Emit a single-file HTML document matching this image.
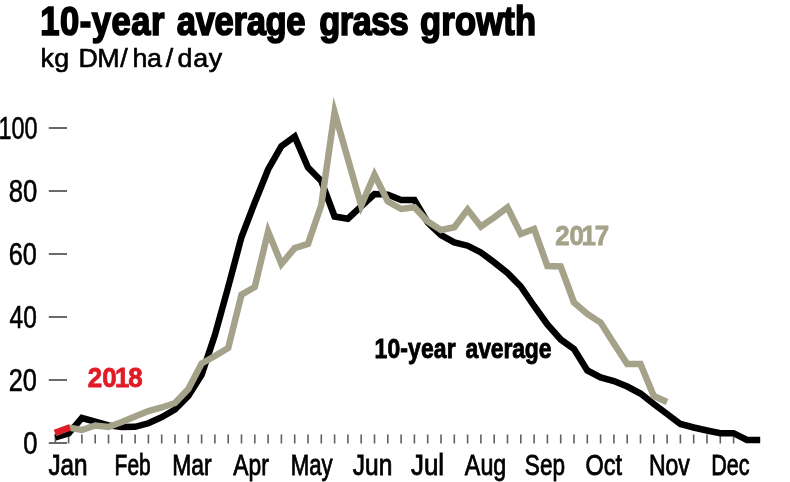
<!DOCTYPE html>
<html><head><meta charset="utf-8"><title>10-year average grass growth</title>
<style>
html,body{margin:0;padding:0;background:#fff;}
body{width:790px;height:482px;overflow:hidden;}
svg{display:block;}
text{font-family:"Liberation Sans",Arial,sans-serif;}
</style></head><body>
<svg width="790" height="482" viewBox="0 0 790 482">
<rect width="790" height="482" fill="#fff"/>
<!-- title -->
<text transform="scale(0.86,1)" x="46.79 69.83 92.73 106.68 129.71 152.77 175.70 191.60 205.63 227.58 249.54 271.57 286.88 308.81 332.95 355.13 371.19 395.01 409.97 431.51 453.05 475.02 488.44 513.15 528.95 553.72 585.15 598.70" y="34.6" font-size="40.2" font-weight="bold" fill="#000" stroke="#000" stroke-width="1.7">10-year average grass growth</text>
<!-- subtitle -->
<text transform="scale(1.06,1)" x="38.25 51.29 65.58 74.06 91.82 113.44 124.91 138.70 156.31 167.47 182.24 196.98" y="67" font-size="25.3" fill="#000" stroke="#000" stroke-width="0.6">kg DM/ha/day</text>
<!-- y axis labels -->
<text x="-1.41" y="139" font-size="30.5" fill="#000" stroke="#000" stroke-width="0.6" textLength="38.97" lengthAdjust="spacingAndGlyphs">100</text>
<text x="8.66" y="202" font-size="30.5" fill="#000" stroke="#000" stroke-width="0.6" textLength="28.58" lengthAdjust="spacingAndGlyphs">80</text>
<text x="8.74" y="265" font-size="30.5" fill="#000" stroke="#000" stroke-width="0.6" textLength="28.04" lengthAdjust="spacingAndGlyphs">60</text>
<text x="9.58" y="328" font-size="30.5" fill="#000" stroke="#000" stroke-width="0.6" textLength="27.22" lengthAdjust="spacingAndGlyphs">40</text>
<text x="8.7" y="391" font-size="30.5" fill="#000" stroke="#000" stroke-width="0.6" textLength="28.18" lengthAdjust="spacingAndGlyphs">20</text>
<text x="23.33" y="454" font-size="30.5" fill="#000" stroke="#000" stroke-width="0.6" textLength="14.21" lengthAdjust="spacingAndGlyphs">0</text>
<g stroke="#6a6a6a" stroke-width="2"><line x1="48.8" y1="128" x2="67" y2="128"/><line x1="48.8" y1="191" x2="67" y2="191"/><line x1="48.8" y1="254" x2="67" y2="254"/><line x1="48.8" y1="317" x2="67" y2="317"/><line x1="48.8" y1="380" x2="67" y2="380"/><line x1="48.8" y1="443" x2="67" y2="443"/></g>
<g stroke="#606060" stroke-width="1.6"><line x1="55.3" y1="434.5" x2="55.3" y2="443.5"/><line x1="68.6" y1="434.5" x2="68.6" y2="443.5"/><line x1="81.9" y1="434.5" x2="81.9" y2="443.5"/><line x1="95.2" y1="434.5" x2="95.2" y2="443.5"/><line x1="108.5" y1="434.5" x2="108.5" y2="443.5"/><line x1="121.8" y1="434.5" x2="121.8" y2="443.5"/><line x1="135.1" y1="434.5" x2="135.1" y2="443.5"/><line x1="148.4" y1="434.5" x2="148.4" y2="443.5"/><line x1="161.7" y1="434.5" x2="161.7" y2="443.5"/><line x1="175.0" y1="434.5" x2="175.0" y2="443.5"/><line x1="188.3" y1="434.5" x2="188.3" y2="443.5"/><line x1="201.6" y1="434.5" x2="201.6" y2="443.5"/><line x1="214.9" y1="434.5" x2="214.9" y2="443.5"/><line x1="228.2" y1="434.5" x2="228.2" y2="443.5"/><line x1="241.5" y1="434.5" x2="241.5" y2="443.5"/><line x1="254.8" y1="434.5" x2="254.8" y2="443.5"/><line x1="268.1" y1="434.5" x2="268.1" y2="443.5"/><line x1="281.4" y1="434.5" x2="281.4" y2="443.5"/><line x1="294.7" y1="434.5" x2="294.7" y2="443.5"/><line x1="308.0" y1="434.5" x2="308.0" y2="443.5"/><line x1="321.3" y1="434.5" x2="321.3" y2="443.5"/><line x1="334.6" y1="434.5" x2="334.6" y2="443.5"/><line x1="347.9" y1="434.5" x2="347.9" y2="443.5"/><line x1="361.2" y1="434.5" x2="361.2" y2="443.5"/><line x1="374.5" y1="434.5" x2="374.5" y2="443.5"/><line x1="387.8" y1="434.5" x2="387.8" y2="443.5"/><line x1="401.1" y1="434.5" x2="401.1" y2="443.5"/><line x1="414.4" y1="434.5" x2="414.4" y2="443.5"/><line x1="427.7" y1="434.5" x2="427.7" y2="443.5"/><line x1="441.0" y1="434.5" x2="441.0" y2="443.5"/><line x1="454.3" y1="434.5" x2="454.3" y2="443.5"/><line x1="467.6" y1="434.5" x2="467.6" y2="443.5"/><line x1="480.9" y1="434.5" x2="480.9" y2="443.5"/><line x1="494.2" y1="434.5" x2="494.2" y2="443.5"/><line x1="507.5" y1="434.5" x2="507.5" y2="443.5"/><line x1="520.8" y1="434.5" x2="520.8" y2="443.5"/><line x1="534.1" y1="434.5" x2="534.1" y2="443.5"/><line x1="547.4" y1="434.5" x2="547.4" y2="443.5"/><line x1="560.7" y1="434.5" x2="560.7" y2="443.5"/><line x1="574.0" y1="434.5" x2="574.0" y2="443.5"/><line x1="587.3" y1="434.5" x2="587.3" y2="443.5"/><line x1="600.6" y1="434.5" x2="600.6" y2="443.5"/><line x1="613.9" y1="434.5" x2="613.9" y2="443.5"/><line x1="627.2" y1="434.5" x2="627.2" y2="443.5"/><line x1="640.5" y1="434.5" x2="640.5" y2="443.5"/><line x1="653.8" y1="434.5" x2="653.8" y2="443.5"/><line x1="667.1" y1="434.5" x2="667.1" y2="443.5"/><line x1="680.4" y1="434.5" x2="680.4" y2="443.5"/><line x1="693.7" y1="434.5" x2="693.7" y2="443.5"/><line x1="707.0" y1="434.5" x2="707.0" y2="443.5"/><line x1="720.3" y1="434.5" x2="720.3" y2="443.5"/><line x1="733.6" y1="434.5" x2="733.6" y2="443.5"/></g>
<!-- month labels -->
<text x="48.41" y="475" font-size="29.8" fill="#000" stroke="#000" stroke-width="0.85" textLength="39.19" lengthAdjust="spacingAndGlyphs">Jan</text>
<text x="114.62" y="475" font-size="29.8" fill="#000" stroke="#000" stroke-width="0.85" textLength="36.11" lengthAdjust="spacingAndGlyphs">Feb</text>
<text x="172.18" y="475" font-size="29.8" fill="#000" stroke="#000" stroke-width="0.85" textLength="39.42" lengthAdjust="spacingAndGlyphs">Mar</text>
<text x="233.36" y="475" font-size="29.8" fill="#000" stroke="#000" stroke-width="0.85" textLength="35.52" lengthAdjust="spacingAndGlyphs">Apr</text>
<text x="290.7" y="475" font-size="29.8" fill="#000" stroke="#000" stroke-width="0.85" textLength="41.82" lengthAdjust="spacingAndGlyphs">May</text>
<text x="352.75" y="475" font-size="29.8" fill="#000" stroke="#000" stroke-width="0.85" textLength="39.57" lengthAdjust="spacingAndGlyphs">Jun</text>
<text x="410.94" y="475" font-size="29.8" fill="#000" stroke="#000" stroke-width="0.85" textLength="33.13" lengthAdjust="spacingAndGlyphs">Jul</text>
<text x="464.87" y="475" font-size="29.8" fill="#000" stroke="#000" stroke-width="0.85" textLength="41.42" lengthAdjust="spacingAndGlyphs">Aug</text>
<text x="524.83" y="475" font-size="29.8" fill="#000" stroke="#000" stroke-width="0.85" textLength="40.15" lengthAdjust="spacingAndGlyphs">Sep</text>
<text x="585.62" y="475" font-size="29.8" fill="#000" stroke="#000" stroke-width="0.85" textLength="36.5" lengthAdjust="spacingAndGlyphs">Oct</text>
<text x="648.96" y="475" font-size="29.8" fill="#000" stroke="#000" stroke-width="0.85" textLength="40.92" lengthAdjust="spacingAndGlyphs">Nov</text>
<text x="711.25" y="475" font-size="29.8" fill="#000" stroke="#000" stroke-width="0.85" textLength="38.37" lengthAdjust="spacingAndGlyphs">Dec</text>
<polyline points="55.3,437.5 68.6,433.5 81.9,418.0 95.2,421.6 108.5,425.4 121.8,427.0 135.1,426.8 148.4,423.3 161.7,417.2 175.0,409.5 188.3,396.0 201.6,374.9 214.9,335.1 228.2,287.0 241.5,237.0 254.8,202.5 268.1,169.5 281.4,146.2 294.7,136.6 308.0,167.5 321.3,181.0 334.6,216.5 347.9,218.7 361.2,206.4 374.5,194.0 387.8,194.6 401.1,199.9 414.4,199.9 427.7,222.5 441.0,235.0 454.3,242.4 467.6,245.7 480.9,252.4 494.2,262.4 507.5,273.0 520.8,286.5 534.1,306.0 547.4,324.5 560.7,339.5 574.0,349.0 587.3,370.5 600.6,377.5 613.9,381.0 627.2,386.5 640.5,393.5 653.8,404.0 667.1,414.0 680.4,424.0 693.7,427.5 707.0,430.5 720.3,433.2 733.6,433.2 746.9,439.9 760.2,439.9" fill="none" stroke="#000" stroke-width="6.5" stroke-linejoin="miter" stroke-miterlimit="30"/>
<polyline points="55.3,432.9 68.6,427.6 81.9,430.0 95.2,425.5 108.5,427.0 121.8,422.0 135.1,416.5 148.4,411.0 161.7,407.5 175.0,403.0 188.3,389.0 201.6,363.5 214.9,356.0 228.2,348.0 241.5,294.6 254.8,287.0 268.1,231.5 281.4,264.0 294.7,248.1 308.0,243.9 321.3,205.0 334.6,112.4 347.9,159.0 361.2,205.5 374.5,174.7 387.8,201.5 401.1,209.0 414.4,207.3 427.7,221.5 441.0,230.0 454.3,227.3 467.6,209.6 480.9,226.5 494.2,217.4 507.5,207.4 520.8,234.0 534.1,229.0 547.4,266.0 560.7,266.5 574.0,302.5 587.3,314.0 600.6,322.5 613.9,343.5 627.2,364.0 640.5,364.0 653.8,396.0 667.1,402.0" fill="none" stroke="#a5a28a" stroke-width="6.5" stroke-linejoin="miter" stroke-miterlimit="30"/>
<polyline points="54.9,432.7 70.0,427.5" fill="none" stroke="#e01b26" stroke-width="6.5"/>
<text transform="scale(0.91,1)" x="96.50 112.42 126.38 141.05" y="386.8" font-size="28.5" font-weight="bold" fill="#e01b26" stroke="#e01b26" stroke-width="0.8">2018</text>
<text transform="scale(0.91,1)" x="610.25 625.88 639.01 653.61" y="245.1" font-size="28.5" font-weight="bold" fill="#a5a28a" stroke="#a5a28a" stroke-width="0.8">2017</text>
<text transform="scale(0.832,1)" x="450.12 465.64 481.12 490.45 505.97 521.48 536.97 547.80 559.54 574.72 589.89 605.10 615.69 630.85 647.54" y="358.5" font-size="27.6" font-weight="bold" fill="#000" stroke="#000" stroke-width="0.9">10-year average</text>
</svg>
</body></html>
